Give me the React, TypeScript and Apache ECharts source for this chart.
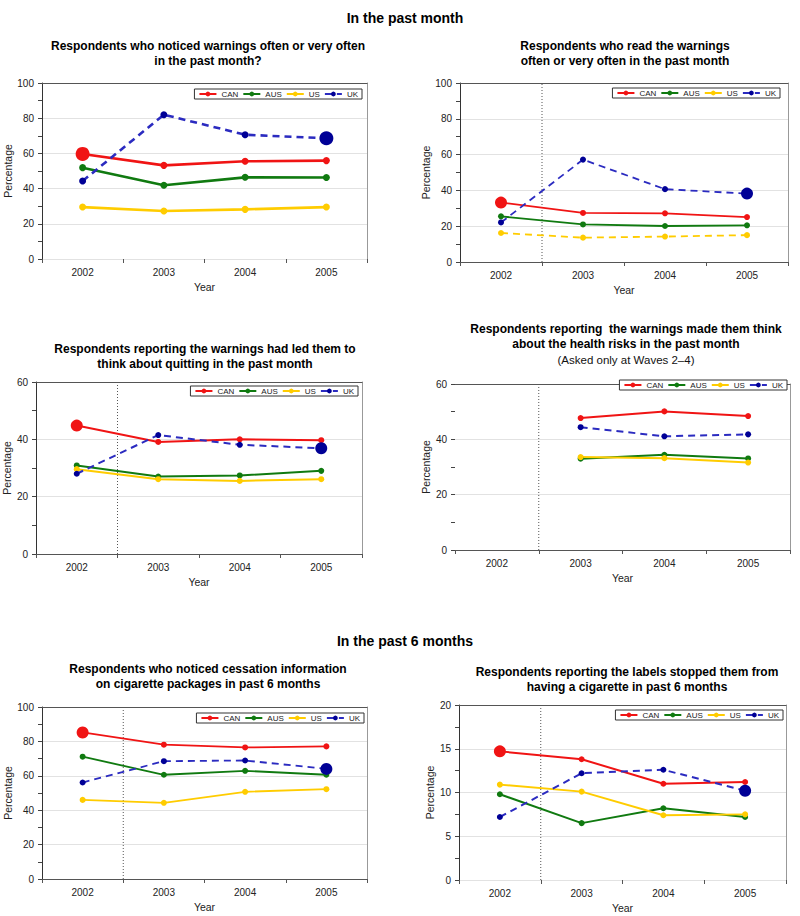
import React, { useEffect, useRef } from "react";
import * as echarts from "echarts";

const YEARS = ["2002", "2003", "2004", "2005"];
const SERIES_NAMES = ["CAN", "AUS", "US", "UK"];
const WAVE_BREAK = 0.5;

// Panel 1: noticed warnings often / very often (past month)
const noticedCAN = [59.7, 53.2, 55.5, 55.9];
const noticedAUS = [51.9, 41.9, 46.4, 46.3];
const noticedUS = [29.5, 27.3, 28.2, 29.5];
const noticedUK = [44.3, 82.0, 70.6, 68.6];

// Panel 2: read the warnings often / very often (past month)
const readCAN = [33.2, 27.4, 27.2, 25.1];
const readAUS = [25.5, 21.0, 20.1, 20.5];
const readUS = [16.2, 13.6, 14.2, 15.0];
const readUK = [22.1, 57.2, 40.7, 38.2];

// Panel 3: warnings led them to think about quitting (past month)
const quitCAN = [44.8, 39.1, 40.0, 39.7];
const quitAUS = [30.9, 27.0, 27.4, 29.0];
const quitUS = [29.6, 26.1, 25.5, 26.1];
const quitUK = [28.0, 41.5, 38.1, 36.9];

// Panel 4: warnings made them think about health risks (waves 2-4 only)
const healthCAN = [null, 47.7, 50.1, 48.4];
const healthAUS = [null, 33.0, 34.4, 33.1];
const healthUS = [null, 33.6, 33.2, 31.6];
const healthUK = [null, 44.4, 41.1, 41.8];

// Panel 5: noticed cessation information (past 6 months)
const cessationCAN = [85.2, 78.1, 76.5, 77.1];
const cessationAUS = [71.1, 60.6, 62.9, 60.6];
const cessationUS = [46.0, 44.3, 50.7, 52.2];
const cessationUK = [56.1, 68.5, 68.9, 64.0];

// Panel 6: labels stopped them from having a cigarette (past 6 months)
const stoppedCAN = [14.7, 13.8, 11.0, 11.2];
const stoppedAUS = [9.8, 6.5, 8.2, 7.2];
const stoppedUS = [10.9, 10.1, 7.4, 7.5];
const stoppedUK = [7.2, 12.2, 12.6, 10.2];

const Y_MAX = [100, 100, 60, 60, 100, 20];
const Y_INTERVAL = [20, 20, 20, 20, 20, 5];

const HEADINGS = ["In the past month", "In the past 6 months"];
const PANEL_TITLES = [
  "Respondents who noticed warnings often or very often\nin the past month?",
  "Respondents who read the warnings\noften or very often in the past month",
  "Respondents reporting the warnings had led them to\nthink about quitting in the past month",
  "Respondents reporting  the warnings made them think\nabout the health risks in the past month",
  "Respondents who noticed cessation information\non cigarette packages in past 6 months",
  "Respondents reporting the labels stopped them from\nhaving a cigarette in past 6 months",
];
const PANEL_SUBTITLE_4 = "(Asked only at Waves 2\u20134)";

const FONT = "'Liberation Sans', Arial, Helvetica, sans-serif";
const COLORS = { CAN: "#f01414", AUS: "#107a10", US: "#ffcc00", UK: "#000096" };
const UK_LINE = "#2b2bc0";

const panels = [
  {
    data: [noticedCAN, noticedAUS, noticedUS, noticedUK],
    grid: { left: 42, top: 83, width: 325, height: 176 },
    titleX: 203, titleY: 33, legend: { right: 438, top: 89 },
    divider: false, big: true, lw: 2.6, sym: 7, usDashed: false,
    bottomLine: false, leftLine: true, nameGap: 21,
  },
  {
    data: [readCAN, readAUS, readUS, readUK],
    grid: { left: 460, top: 83, width: 328, height: 179 },
    titleX: 620, titleY: 33, legend: { right: 20, top: 88 },
    divider: true, big: true, lw: 1.8, sym: 6, usDashed: true,
    bottomLine: true, leftLine: true, nameGap: 22,
  },
  {
    data: [quitCAN, quitAUS, quitUS, quitUK],
    grid: { left: 36, top: 382, width: 326, height: 172 },
    titleX: 200, titleY: 336, legend: { right: 442, top: 386 },
    divider: true, big: true, lw: 2, sym: 6, usDashed: false,
    bottomLine: true, leftLine: true, nameGap: 15,
  },
  {
    data: [healthCAN, healthAUS, healthUS, healthUK],
    grid: { left: 455, top: 384, width: 335, height: 166 },
    titleX: 621, titleY: 316, legend: { right: 13, top: 380 },
    divider: true, big: false, lw: 2, sym: 6, usDashed: false,
    bottomLine: true, leftLine: false, nameGap: 11,
  },
  {
    data: [cessationCAN, cessationAUS, cessationUS, cessationUK],
    grid: { left: 42, top: 707, width: 325, height: 172 },
    titleX: 203, titleY: 656, legend: { right: 436, top: 713 },
    divider: true, big: true, lw: 1.8, sym: 6, usDashed: false,
    bottomLine: true, leftLine: true, nameGap: 22,
  },
  {
    data: [stoppedCAN, stoppedAUS, stoppedUS, stoppedUK],
    grid: { left: 459, top: 705, width: 327, height: 175 },
    titleX: 622, titleY: 659, legend: { right: 17, top: 710 },
    divider: true, big: true, lw: 2, sym: 6, usDashed: false,
    bottomLine: false, leftLine: true, nameGap: 18,
  },
];

function buildOption() {
  const grids: any[] = [];
  const xAxes: any[] = [];
  const yAxes: any[] = [];
  const series: any[] = [];
  const legends: any[] = [];
  const titles: any[] = [
    {
      text: HEADINGS[0], left: 400, top: 6, textAlign: "center",
      textStyle: { fontFamily: FONT, fontSize: 14, fontWeight: "bold", color: "#000" },
    },
    {
      text: HEADINGS[1], left: 400, top: 629, textAlign: "center",
      textStyle: { fontFamily: FONT, fontSize: 14, fontWeight: "bold", color: "#000" },
    },
  ];

  panels.forEach((p, g) => {
    const yMax = Y_MAX[g];
    grids.push({ ...p.grid, containLabel: false });
    titles.push({
      text: PANEL_TITLES[g],
      subtext: g === 3 ? PANEL_SUBTITLE_4 : "",
      left: p.titleX, top: p.titleY, textAlign: "center", itemGap: 3,
      textStyle: { fontFamily: FONT, fontSize: 12, fontWeight: "bold", color: "#000", lineHeight: 15 },
      subtextStyle: { fontFamily: FONT, fontSize: 11.5, color: "#111" },
    });
    xAxes.push({
      type: "category", gridIndex: g, data: YEARS, position: "bottom",
      boundaryGap: true,
      axisLine: { show: p.bottomLine, onZero: false, lineStyle: { color: "#555", width: 1 } },
      axisTick: { show: true, length: 4, lineStyle: { color: "#555" } },
      axisLabel: { fontFamily: FONT, fontSize: 10, color: "#222", margin: 8 },
      splitLine: { show: false },
      name: "Year", nameLocation: "middle", nameGap: 22,
      nameTextStyle: { fontFamily: FONT, fontSize: 10.5, color: "#222" },
    });
    xAxes.push({
      type: "value", gridIndex: g, position: "top", min: -0.5, max: 3.5,
      axisLine: { show: true, onZero: false, lineStyle: { color: "#555", width: 1 } },
      axisTick: { show: false }, axisLabel: { show: false }, splitLine: { show: false },
    });
    yAxes.push({
      type: "value", gridIndex: g, position: "left", min: 0, max: yMax, interval: Y_INTERVAL[g],
      axisLine: { show: p.leftLine, onZero: false, lineStyle: { color: "#333", width: 1 } },
      axisTick: { show: true, length: 4, lineStyle: { color: "#444" } },
      minorTick: { show: true, splitNumber: 2, length: 4, lineStyle: { color: "#444" } },
      splitLine: { show: true, lineStyle: { color: "#e2e2e2", width: 1 } },
      axisLabel: { fontFamily: FONT, fontSize: 10, color: "#222", margin: 8 },
      name: "Percentage", nameLocation: "middle", nameGap: p.nameGap,
      nameTextStyle: { fontFamily: FONT, fontSize: 10.5, color: "#222" },
    });
    yAxes.push({
      type: "value", gridIndex: g, position: "right", min: 0, max: yMax,
      axisLine: { show: true, onZero: false, lineStyle: { color: "#999", width: 1 } },
      axisTick: { show: false }, axisLabel: { show: false }, splitLine: { show: false },
    });
    legends.push({
      data: SERIES_NAMES, right: p.legend.right, top: p.legend.top,
      orient: "horizontal", backgroundColor: "#fff",
      borderColor: "#333", borderWidth: 1, padding: [1, 4, 1, 4],
      itemWidth: 17, itemHeight: 6, itemGap: 4,
      textStyle: { fontFamily: FONT, fontSize: 8, color: "#222" },
      selectedMode: false,
    });

    SERIES_NAMES.forEach((name, si) => {
      const vals = p.data[si];
      const isUK = name === "UK";
      const dashed = isUK || (name === "US" && p.usDashed);
      const data = vals.map((v, i) => {
        if (v == null) return null;
        const bigPoint = p.big && ((name === "CAN" && i === 0) || (isUK && i === vals.length - 1));
        return bigPoint ? { value: v, symbolSize: p.sym * 2 } : v;
      });
      series.push({
        type: "line", name, xAxisIndex: 2 * g, yAxisIndex: 2 * g, data,
        symbol: "circle", symbolSize: p.sym, showSymbol: true,
        lineStyle: {
          color: isUK ? UK_LINE : (COLORS as any)[name], width: p.lw,
          type: dashed ? [7, 5] : "solid",
        },
        itemStyle: { color: (COLORS as any)[name] },
        z: isUK ? 5 : 3,
        silent: true,
      });
    });

    if (p.divider) {
      series.push({
        type: "line", name: "wave break", xAxisIndex: 2 * g + 1, yAxisIndex: 2 * g,
        data: [[WAVE_BREAK, 0], [WAVE_BREAK, yMax]],
        symbol: "none", silent: true,
        lineStyle: { color: "#555", width: 1, type: [1, 2] },
        z: 1,
      });
    }
  });

  return {
    animation: false,
    backgroundColor: "#fff",
    title: titles,
    grid: grids,
    xAxis: xAxes,
    yAxis: yAxes,
    legend: legends,
    series,
  };
}

export default function App() {
  const ref = useRef<HTMLDivElement>(null);
  useEffect(() => {
    if (!ref.current) return;
    const chart = echarts.init(ref.current, undefined, { renderer: "svg" });
    chart.setOption(buildOption() as any);
    return () => chart.dispose();
  }, []);
  return (
    <div
      ref={ref}
      style={{ position: "absolute", left: 0, top: 0, width: 800, height: 916, background: "#fff" }}
    />
  );
}
